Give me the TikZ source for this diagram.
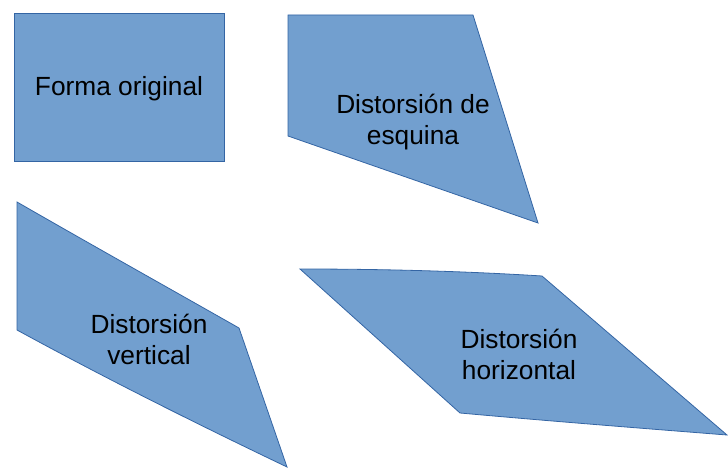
\documentclass[tikz,border=0pt]{standalone}
\usepackage{fontspec}
\setmainfont{Liberation Sans}
\definecolor{shapefill}{HTML}{729FCF}
\definecolor{shapeline}{HTML}{3465A4}
\begin{document}
\begin{tikzpicture}[x=1pt,y=-1pt,
  shapestyle/.style={fill=shapefill,draw=shapeline,line width=0.8pt,line join=miter},
  lbl/.style={font=\fontsize{26.3}{31}\selectfont,text=black,align=center,inner sep=0pt}]
\useasboundingbox (0,0) rectangle (728,468);
% original
\draw[shapestyle] (14,13) rectangle (224,161);
\node[lbl] (orig) at (119,89) {Forma original};
% corner
\draw[shapestyle] (288,15) -- (473,15) -- (538,223) -- (288,136) -- cycle;
\node[lbl] (corner) at (413,122) {Distorsión de\\esquina};
% vertical
\draw[shapestyle] (17,202) .. controls (90,244) and (165,286) .. (239,328) -- (287,467) .. controls (195,423) and (105,378) .. (17,330) -- cycle;
\node[lbl] (vert) at (149,339) {Distorsión\\vertical};
% horizontal
\draw[shapestyle] (300,269) .. controls (380,269) and (462,271) .. (542,276) -- (727,435) .. controls (638,428) and (549,421) .. (460,413) -- cycle;
\node[lbl] (horiz) at (519,354) {Distorsión\\horizontal};
\end{tikzpicture}
\end{document}
